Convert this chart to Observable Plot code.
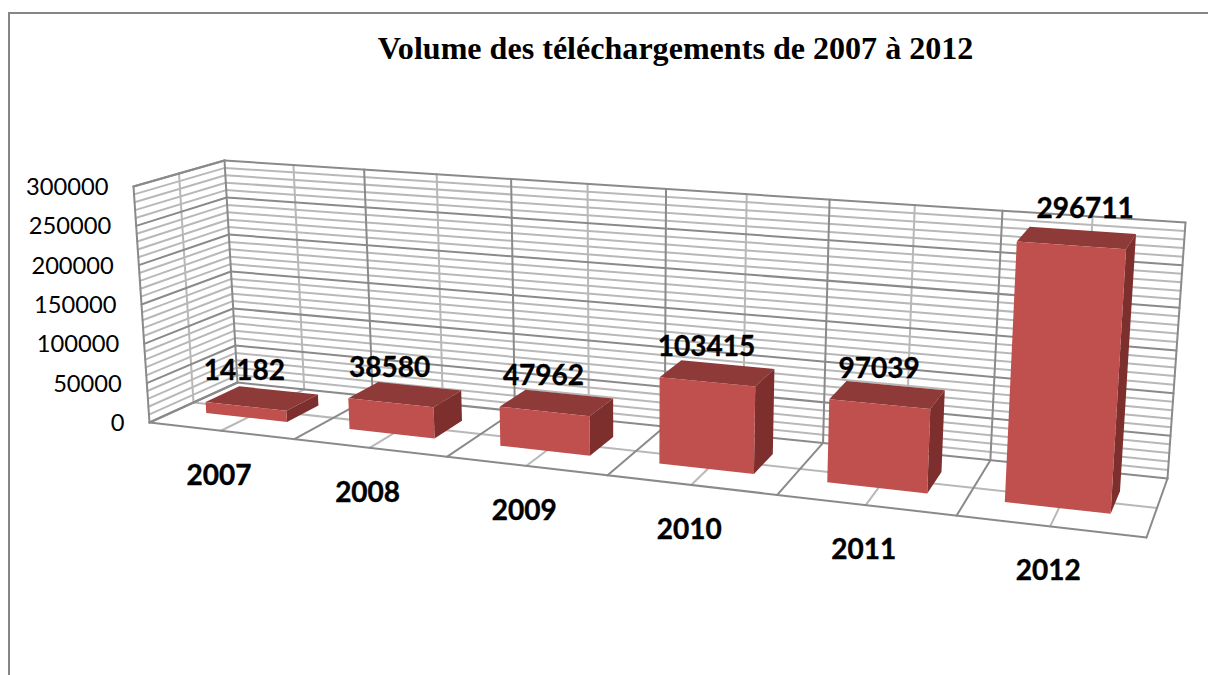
<!DOCTYPE html>
<html lang="fr">
<head>
<meta charset="utf-8">
<script src="https://cdn.jsdelivr.net/npm/d3@7"></script>
<script src="https://cdn.jsdelivr.net/npm/@observablehq/plot@0.6"></script>
<style>
  html, body { margin: 0; padding: 0; background: #fff; overflow: hidden; }
  #page { position: relative; width: 1208px; height: 675px; overflow: hidden; }
  #frame { position: absolute; left: 8px; top: 12px; width: 1300px; height: 800px; border: 2.5px solid #868686; box-sizing: border-box; }
  #title { position: absolute; left: 0; width: 1351px; top: 30px; margin: 0; text-align: center;
           font: bold 32.1px "Liberation Serif", serif; color: #000; line-height: 36px; }
  #chart { position: absolute; left: 0; top: 0; }
  svg { display: block; }
</style>
</head>
<body>
<div id="page">
  <div id="frame"></div>
  <div id="chart"></div>
  <h1 id="title">Volume des téléchargements de 2007 à 2012</h1>
</div>
<script>
// ---- data ----
const years = ["2007", "2008", "2009", "2010", "2011", "2012"];
const downloads = [14182, 38580, 47962, 103415, 97039, 296711];
const yTicks = [0, 50000, 100000, 150000, 200000, 250000, 300000];
const yMax = 300000;
const yMinorStep = 10000;

// ---- 3D box projection (u: along categories, d: depth, v: height, all 0..1) ----
const corners = {
  b00: [149, 422], b10: [1146, 537], b01: [237, 382], b11: [1167, 478],
  t00: [133, 186], t10: [1162.5, 261.5], t01: [224, 160], t11: [1185, 222]
};
const perspective = 0.15;
function project(u, d, v) {
  const s = u * (1 - perspective) / (1 - perspective * u);
  const mix = (a, b, t) => a + (b - a) * t;
  const at = k => {
    const bottom = mix(mix(corners.b00[k], corners.b10[k], s), mix(corners.b01[k], corners.b11[k], s), d);
    const top = mix(mix(corners.t00[k], corners.t10[k], s), mix(corners.t01[k], corners.t11[k], s), d);
    return mix(bottom, top, v);
  };
  return {x: at(0), y: at(1)};
}

// ---- grid ----
const n = years.length;
const seg = (id, a, b) => [{id, ...project(...a)}, {id, ...project(...b)}];
const gridMinor = [], gridMajor = [];
let id = 0;
for (let val = 0; val <= yMax; val += yMinorStep) {
  const v = val / yMax;
  const target = val % 50000 === 0 ? gridMajor : gridMinor;
  target.push(...seg(id++, [0, 0, v], [0, 1, v]));
  target.push(...seg(id++, [0, 1, v], [1, 1, v]));
}
for (let i = 0; i <= n * 2; i++) {
  const u = i / (n * 2);
  const target = i % 2 === 0 ? gridMajor : gridMinor;
  target.push(...seg(id++, [u, 1, 0], [u, 1, 1]));
  target.push(...seg(id++, [u, 0, 0], [u, 1, 0]));
}
gridMinor.push(...seg(id++, [0, 0.5, 0], [0, 0.5, 1]));
gridMinor.push(...seg(id++, [0, 0.5, 0], [1, 0.5, 0]));
gridMajor.push(...seg(id++, [0, 0, 0], [0, 0, 1]));
gridMajor.push(...seg(id++, [0, 0, 0], [1, 0, 0]));
gridMajor.push(...seg(id++, [0, 0, 1], [0, 1, 1]));

// ---- bars ----
const halfWidth = 0.0475, centerShift = -0.0015, dFront = 0.32, dBack = 0.71;
const fronts = [], tops = [], sides = [];
downloads.forEach((value, i) => {
  const c = (i + 0.5) / n + centerShift, l = c - halfWidth, r = c + halfWidth, v = value / yMax;
  const face = (list, pts) => pts.forEach(p => list.push({bar: i, ...project(...p)}));
  face(tops, [[l, dFront, v], [r, dFront, v], [r, dBack, v], [l, dBack, v]]);
  face(sides, [[r, dFront, 0], [r, dBack, 0], [r, dBack, v], [r, dFront, v]]);
  face(fronts, [[l, dFront, 0], [r, dFront, 0], [r, dFront, v], [l, dFront, v]]);
});
const faceLine = (list, fill) => Plot.line(list, {x: "x", y: "y", z: "bar", fill, stroke: null, curve: "linear-closed"});

// ---- labels ----
const tickRows = yTicks.map(t => ({label: String(t), ...project(0, 0, t / yMax)}));
const yearRows = years.map((label, i) => ({label, ...project((i + 0.5) / n, 0, 0)}));
const valueRows = downloads.map((value, i) => ({label: String(value), ...project((i + 0.5) / n, 0.3, value / yMax)}));
const regularFont = {fontFamily: "Lato", fill: "#000"};
const boldFont = {fontFamily: "Lato", fontWeight: 700, fill: "#000", stroke: "#000", strokeWidth: 0.4};

const plot = Plot.plot({
  width: 1208, height: 675,
  marginTop: 0, marginRight: 0, marginBottom: 0, marginLeft: 0,
  style: {background: "transparent"},
  x: {type: "linear", domain: [0, 1208], range: [0, 1208], axis: null},
  y: {type: "linear", domain: [0, 675], range: [0, 675], axis: null},
  marks: [
    Plot.line(gridMinor, {x: "x", y: "y", z: "id", stroke: "#b8b8b8", strokeWidth: 2}),
    Plot.line(gridMajor, {x: "x", y: "y", z: "id", stroke: "#8a8a8a", strokeWidth: 2}),
    faceLine(tops, "#8e3a38"),
    faceLine(sides, "#7c2f2d"),
    faceLine(fronts, "#c0504d"),
    Plot.text(tickRows, {x: "x", y: "y", text: "label", textAnchor: "end", dx: -25, dy: 1, fontSize: 23.7, ...regularFont}),
    Plot.text(yearRows, {x: "x", y: "y", text: "label", dx: -2, dy: 45, fontSize: 28, ...boldFont}),
    Plot.text(valueRows.slice(0, 5), {x: "x", y: "y", text: "label", dx: -1, dy: -36, fontSize: 28, ...boldFont}),
    Plot.text(valueRows.slice(5), {x: "x", y: "y", text: "label", dx: 13, dy: -37, fontSize: 28, ...boldFont})
  ]
});
document.getElementById("chart").appendChild(plot);
</script>
</body>
</html>
